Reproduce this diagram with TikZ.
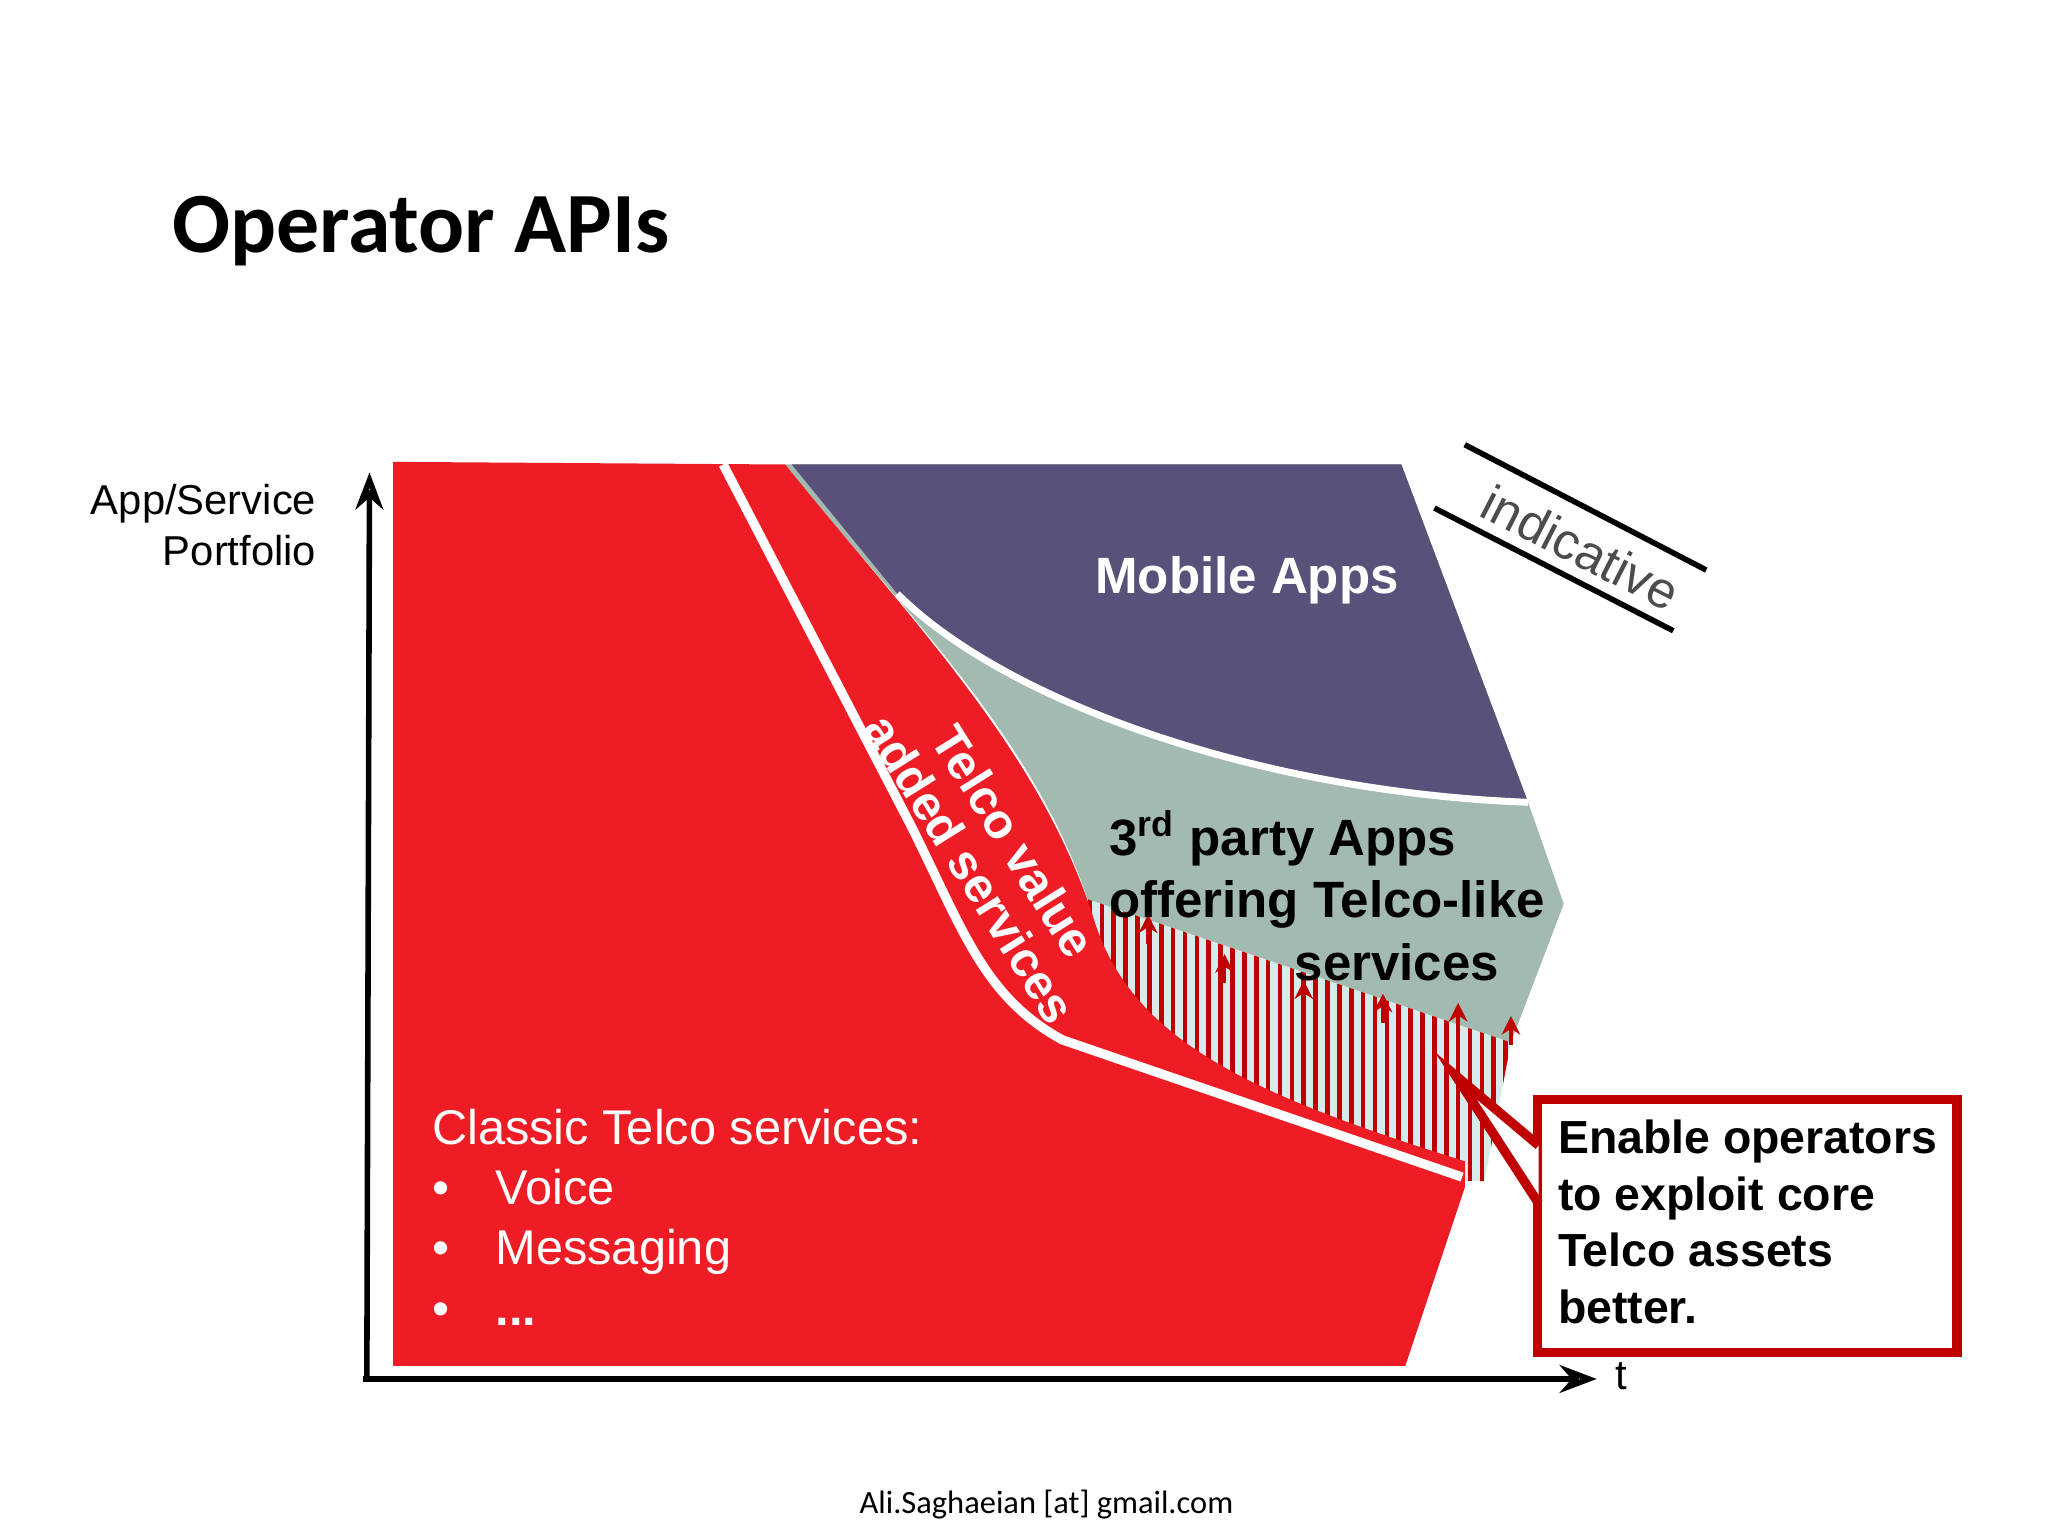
\documentclass[tikz,border=0pt]{standalone}
\usepackage{fontspec}
\setmainfont{Liberation Sans}
\newfontfamily\calib{Carlito}
\usetikzlibrary{arrows.meta}
\definecolor{tred}{HTML}{EE1C25}
\definecolor{tpurple}{HTML}{59517A}
\definecolor{tgreen}{HTML}{A3BAB0}
\definecolor{tcyan}{HTML}{D6ECEC}
\definecolor{dred}{HTML}{C00000}
\tikzset{
  lbl/.style={font=\fontsize{9}{11}\selectfont, align=right},
  wbold/.style={text=white, font=\bfseries\fontsize{11}{13}\selectfont},
  upar/.style={draw=dred, line width=0.8pt, -{Stealth[length=4pt,width=4pt]}},
}
\begin{document}
\begin{tikzpicture}[x=0.01cm,y=-0.01cm]
\useasboundingbox (0,0) rectangle (1552,1164);
% green
\fill[tgreen] (595,352) -- (1062,352) -- (1158,608) -- (1185,685) -- (1145,790) -- (1110,880) -- (830,880) -- (830,700) .. controls (790,560) and (680,460) .. (595,352) -- cycle;
% purple
\fill[tpurple] (600,352) -- (1062,352) -- (1158,608) .. controls (950,600) and (760,530) .. (680,450) -- cycle;
\draw[white, line width=1.5pt] (1158,608) .. controls (950,600) and (760,530) .. (680,450);
% hatch
\begin{scope}
\clip (820,680) -- (1145,790) -- (1125,895) -- (820,895) -- cycle;
\fill[tcyan] (800,650) rectangle (1160,900);
\foreach \x in {826,835,...,1150} \draw[dred, line width=1pt] (\x,650) -- (\x,900);
\end{scope}
% red
\fill[tred] (298,350) -- (595,352) .. controls (690,470) and (790,570) .. (830,700) .. controls (860,790) and (950,830) .. (1110,880) -- (1110,900) -- (1065,1035) -- (298,1035) -- cycle;
\draw[white, line width=2pt] (548,352) -- (690,625) .. controls (730,705) and (745,755) .. (805,788) -- (1108,892);
% up arrows
\foreach \x/\y in {870/715,928/745,988/765,1048/775,1105/782,1145/792}
  \draw[upar] (\x,\y) -- (\x,\y-22);
% axes
\coordinate (o) at (278,1045);
\coordinate (ytop) at (280,358);
\coordinate (xend) at (1210,1045);
\draw[line width=1.2pt, -{Stealth[length=8pt,width=6pt,open]}] (o) -- (ytop);
\draw[line width=1.2pt, -{Stealth[length=8pt,width=6pt,open]}] (275,1045) -- (xend);
\node[anchor=west, font=\fontsize{9}{11}\selectfont] (t) at (1212,1043) {t};
\node[lbl, anchor=east] (ylab) at (252,398) {App/Service\\Portfolio};
% title
\node[anchor=west, font=\calib\bfseries\fontsize{18.5}{22}\selectfont] (title) at (118,175) {Operator APIs};
% texts
\node[wbold, font=\bfseries\fontsize{11}{13}\selectfont] (mob) at (945,440) {Mobile Apps};
\node[font=\bfseries\fontsize{11}{13.5}\selectfont, align=left, anchor=north west] (third) at (828,602) {3\textsuperscript{rd} party Apps\\offering Telco-like\\\hspace*{40pt}services};
\node[text=white, font=\fontsize{10.5}{14}\selectfont, align=left, anchor=north west] (classic) at (315,828) {Classic Telco services:\\[-1pt]
\textbullet\hspace{10pt}Voice\\[-1pt]\textbullet\hspace{10pt}Messaging\\[-1pt]\textbullet\hspace{10pt}\textbf{...}};
\node[wbold, rotate=-58, align=center, font=\bfseries\fontsize{10.5}{11}\selectfont] (tva) at (752,648) {Telco value\\added services};
% indicative
\draw[line width=1.2pt] (1110,337) -- (1293,432);
\draw[line width=1.2pt] (1087,385) -- (1268,478);
\node[rotate=-27, text=black!70, font=\fontsize{11}{13}\selectfont] (ind) at (1198,415) {indicative};
% callout
\coordinate (tip) at (1103,815);
\draw[dred, line width=2pt, fill=white] (1165,833) rectangle (1483,1025);
\draw[dred, line width=2pt, fill=white, line join=miter] (1166,868) -- (tip) -- (1166,912);
\node[anchor=north west, align=left, font=\bfseries\fontsize{10}{12.2}\selectfont, inner sep=0pt] (box) at (1180,848) {Enable operators\\to exploit core\\Telco assets\\better.};
% footer
\node[font=\calib\fontsize{7}{8}\selectfont] (foot) at (793,1140) {Ali.Saghaeian [at] gmail.com};
\end{tikzpicture}
\end{document}
